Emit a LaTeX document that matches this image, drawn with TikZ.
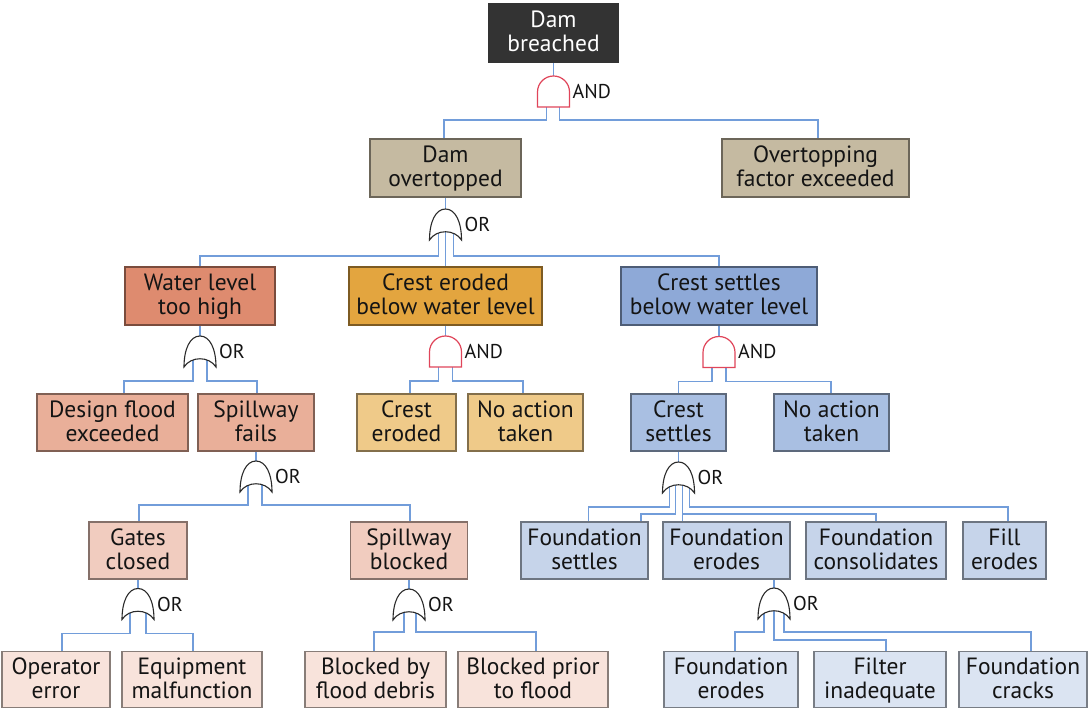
\documentclass[tikz,border=0pt]{standalone}
\usepackage{fontspec}
\setmainfont{PT Sans}
\definecolor{cDark}{HTML}{333333}
\definecolor{cTan}{HTML}{C5BAA1}
\definecolor{cRedA}{HTML}{DE8B6F}
\definecolor{cRedB}{HTML}{E9AF99}
\definecolor{cRedC}{HTML}{F1CCBF}
\definecolor{cRedD}{HTML}{F8E3DB}
\definecolor{cOrA}{HTML}{E3A53F}
\definecolor{cOrB}{HTML}{EFCA89}
\definecolor{cBlA}{HTML}{8EA9D7}
\definecolor{cBlB}{HTML}{A9BFE2}
\definecolor{cBlC}{HTML}{C6D4EA}
\definecolor{cBlD}{HTML}{DBE4F2}
\definecolor{cWire}{HTML}{729DDA}
\definecolor{cAnd}{HTML}{E0455A}
\definecolor{cOr}{HTML}{2A2A2A}

% two lines with a fixed strut, so every event box centres its text the same way
\newcommand\evstrut{\rule[-5pt]{0pt}{23.5pt}}
\newcommand\evtext[2]{\evstrut#1\\\evstrut#2}
% gate outlines drawn over the invisible gate nodes
\newcommand\drawand[1]{%
  \draw[andline] (#1.south west) -- ([yshift=15pt]#1.south west)
    arc[start angle=180,end angle=0,radius=16pt] -- (#1.south east) -- cycle;
  \node[gatelabel] at (#1.east) {AND};}
\newcommand\drawor[1]{%
  \draw[orline] (#1.south west)
    .. controls ([shift={(0,-18)}]#1.south west) and ([shift={(-10,0)}]#1.north) .. (#1.north)
    .. controls ([shift={(10,0)}]#1.north) and ([shift={(0,-18)}]#1.south east) .. (#1.south east)
    .. controls ([shift={(-7,-11)}]#1.south east) and ([shift={(7,-11)}]#1.south west) .. (#1.south west) -- cycle;
  \node[gatelabel] at (#1.east) {OR};}
% elbow wire: gate, leg offset, drop below gate, child, offset on child
\newcommand\wire[5]{%
  \draw[wire] ([xshift=#2pt]#1.center) -- ([shift={(#2,#3)}]#1.south) -| ([xshift=#5pt]#4.north);}
% straight wire from a parent box down to its gate
\newcommand\feed[2]{\draw[wire] (#2.north) -- (#2.north |- #1.south);}

\begin{document}
\begin{tikzpicture}[x=1pt,y=-1pt,
  ev/.style={draw=#1!55!black, fill=#1, line width=1.1pt, align=center,
    minimum height=57pt, inner sep=0pt,
    font=\fontsize{23.5}{23.5}\selectfont, text=black!92},
  gate/.style={minimum width=32pt, minimum height=31pt, inner sep=0pt, outer sep=0pt},
  andline/.style={draw=cAnd, fill=white, line width=1.2pt},
  orline/.style={draw=cOr, fill=white, line width=1.1pt},
  gatelabel/.style={anchor=west, xshift=3pt, inner sep=0pt, font=\fontsize{20}{22}\selectfont, text=black!92},
  wire/.style={draw=cWire, line width=1.3pt}]
\useasboundingbox (0,0) rectangle (1092,708);

% ---- events ----
\node[ev=cDark, text=white, draw=cDark, minimum width=129pt, minimum height=58pt] (top) at (553.5,33) {\evtext{Dam}{breached}};
\node[ev=cTan, minimum width=151pt, minimum height=58pt] (dov) at (445.5,168) {\evtext{Dam}{overtopped}};
\node[ev=cTan, minimum width=187pt, minimum height=58pt] (ovf) at (815.5,168) {\evtext{Overtopping}{factor exceeded}};

\node[ev=cRedA, minimum width=150pt, minimum height=58pt] (wl) at (200,296) {\evtext{Water level}{too high}};
\node[ev=cOrA, minimum width=193pt, minimum height=58pt] (ceb) at (445.5,296) {\evtext{Crest eroded}{below water level}};
\node[ev=cBlA, minimum width=196pt, minimum height=58pt] (csb) at (719,296) {\evtext{Crest settles}{below water level}};

\node[ev=cRedB, minimum width=151pt] (df) at (112.5,422.5) {\evtext{Design flood}{exceeded}};
\node[ev=cRedB, minimum width=116pt] (sf) at (256,422.5) {\evtext{Spillway}{fails}};
\node[ev=cOrB, minimum width=99pt] (ce) at (406.5,422.5) {\evtext{Crest}{eroded}};
\node[ev=cOrB, minimum width=115pt] (nao) at (525.5,422.5) {\evtext{No action}{taken}};
\node[ev=cBlB, minimum width=95pt] (cs) at (678.5,422.5) {\evtext{Crest}{settles}};
\node[ev=cBlB, minimum width=115pt] (nab) at (831.5,422.5) {\evtext{No action}{taken}};

\node[ev=cRedC, minimum width=98pt] (gc) at (138,550.5) {\evtext{Gates}{closed}};
\node[ev=cRedC, minimum width=117pt] (sb) at (409,550.5) {\evtext{Spillway}{blocked}};
\node[ev=cBlC, minimum width=127pt] (fs) at (584.5,550.5) {\evtext{Foundation}{settles}};
\node[ev=cBlC, minimum width=127pt] (fe) at (726.5,550.5) {\evtext{Foundation}{erodes}};
\node[ev=cBlC, minimum width=140pt] (fco) at (876,550.5) {\evtext{Foundation}{consolidates}};
\node[ev=cBlC, minimum width=83pt] (fil) at (1004.5,550.5) {\evtext{Fill}{erodes}};

\node[ev=cRedD, minimum width=108pt, minimum height=56pt] (oe) at (56,679.5) {\evtext{Operator}{error}};
\node[ev=cRedD, minimum width=140pt, minimum height=56pt] (em) at (192,679.5) {\evtext{Equipment}{malfunction}};
\node[ev=cRedD, minimum width=141pt, minimum height=56pt] (bd) at (375.5,679.5) {\evtext{Blocked by}{flood debris}};
\node[ev=cRedD, minimum width=150pt, minimum height=56pt] (bp) at (533,679.5) {\evtext{Blocked prior}{to flood}};
\node[ev=cBlD, minimum width=134pt, minimum height=56pt] (fe2) at (731,679.5) {\evtext{Foundation}{erodes}};
\node[ev=cBlD, minimum width=132pt, minimum height=56pt] (fi) at (880,679.5) {\evtext{Filter}{inadequate}};
\node[ev=cBlD, minimum width=128pt, minimum height=56pt] (fc) at (1023,679.5) {\evtext{Foundation}{cracks}};

% ---- gates ----
\node[gate] (g1) at (553.5,91.5) {};
\node[gate] (g2) at (445.5,224.5) {};
\node[gate] (g3) at (200,351.5) {};
\node[gate] (g4) at (445.5,351.5) {};
\node[gate] (g5) at (719,352) {};
\node[gate] (g6) at (256,476.5) {};
\node[gate] (g7) at (138,604) {};
\node[gate] (g8) at (409,604.5) {};
\node[gate] (g9) at (678.5,477.5) {};
\node[gate] (g10) at (774,603.5) {};

% ---- connectors ----
\feed{top}{g1}
\wire{g1}{-7}{13}{dov}{-1.5}
\wire{g1}{6}{13}{ovf}{2.5}

\feed{dov}{g2}
\wire{g2}{-7}{16}{wl}{0}
\wire{g2}{0}{16}{ceb}{0}
\wire{g2}{8}{16}{csb}{0}

\feed{wl}{g3}
\wire{g3}{-7}{14}{df}{11.5}
\wire{g3}{7}{14}{sf}{1}

\feed{ceb}{g4}
\wire{g4}{-7}{14}{ce}{3.5}
\wire{g4}{7}{14}{nao}{-2.5}

\feed{csb}{g5}
\wire{g5}{-7}{14}{cs}{0}
\wire{g5}{7}{14}{nab}{-0.5}

\feed{sf}{g6}
\wire{g6}{-8}{13}{gc}{1}
\wire{g6}{6}{13}{sb}{1}

\feed{gc}{g7}
\wire{g7}{-8}{14}{oe}{6}
\wire{g7}{8}{14}{em}{1}

\feed{sb}{g8}
\wire{g8}{-5}{12}{bd}{-1.5}
\wire{g8}{7}{12}{bp}{3}

\feed{cs}{g9}
\wire{g9}{-9}{14}{fs}{4}
\wire{g9}{-3}{21}{fs}{56.5}
\wire{g9}{4}{21}{fe}{-44}
\wire{g9}{4}{21}{fco}{0}
\wire{g9}{11}{14}{fil}{3.5}

\feed{fe}{g10}
\wire{g10}{-10}{13}{fe2}{4}
\wire{g10}{0}{21}{fi}{6}
\wire{g10}{10}{13}{fc}{8}

% ---- gate symbols ----
\drawand{g1}
\drawor{g2}
\drawor{g3}
\drawand{g4}
\drawand{g5}
\drawor{g6}
\drawor{g7}
\drawor{g8}
\drawor{g9}
\drawor{g10}
\end{tikzpicture}
\end{document}
